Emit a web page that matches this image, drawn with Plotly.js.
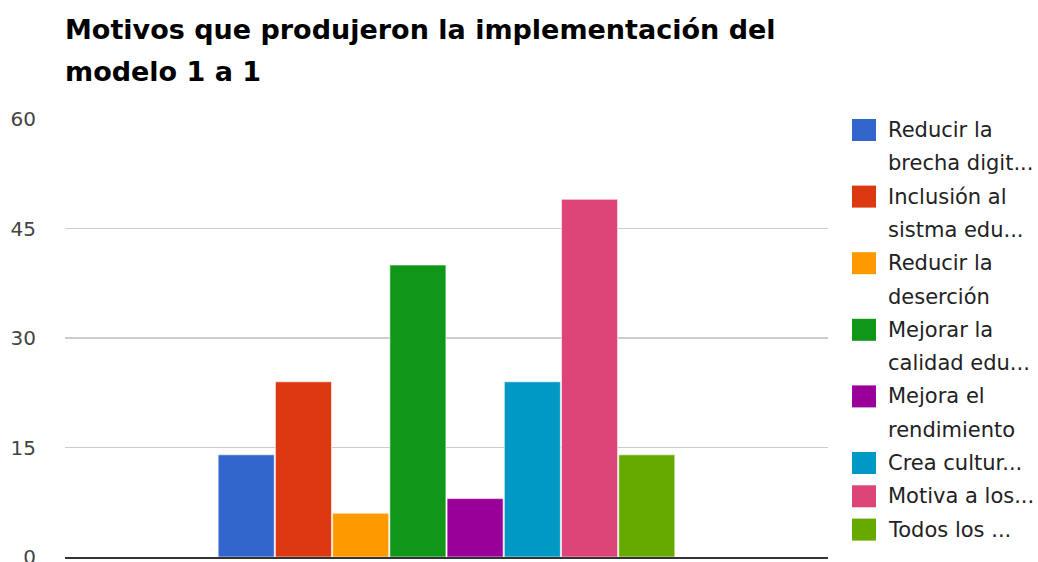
<!DOCTYPE html>
<html>
<head>
<meta charset="utf-8">
<script src="https://cdn.plot.ly/plotly-3.0.1.min.js"></script>
<style>html,body{margin:0;padding:0;background:#fff;}#chart{width:1038px;height:562px;}</style>
</head>
<body>
<div id="chart"></div>
<script>
const category = ["Motivos"];
const seriesNames = [
  ["Reducir la", "brecha digit..."],
  ["Inclusión al", "sistma edu..."],
  ["Reducir la", "deserción"],
  ["Mejorar la", "calidad edu..."],
  ["Mejora el", "rendimiento"],
  ["Crea cultur..."],
  ["Motiva a los..."],
  ["Todos los ..."]
];
const seriesValues = [14, 24, 6, 40, 8, 24, 49, 14];
const seriesColors = ["#3366cc", "#dc3912", "#ff9900", "#109618", "#990099", "#0099c6", "#dd4477", "#66aa00"];
const yTicks = [0, 15, 30, 45, 60];
const titleLines = ["Motivos que produjeron la implementación del", "modelo 1 a 1"];

const FONT = "DejaVu Sans, Verdana, sans-serif";
const W = 1038, H = 562;
const M = {l: 65, r: 210, t: 119, b: 5};
const pw = W - M.l - M.r, ph = H - M.t - M.b;
const px2x = px => (px - M.l) / pw;
const py2y = py => (H - M.b - py) / ph;

const traces = seriesNames.map((name, i) => ({
  type: "bar",
  name: name.join(" "),
  x: category,
  y: [seriesValues[i]],
  marker: {color: seriesColors[i], line: {color: "rgba(255,255,255,0.6)", width: 1}},
  hoverinfo: "skip"
}));

// custom legend (large squares, Google-Charts style spacing)
const annotations = [];
const shapes = [];
let line = 0;
const firstBase = 137, lineStep = 33.3;
seriesNames.forEach((lines, i) => {
  const base0 = firstBase + line * lineStep;
  shapes.push({
    type: "rect", xref: "paper", yref: "paper",
    x0: px2x(852), x1: px2x(876), y0: py2y(base0 - 18), y1: py2y(base0 + 4),
    fillcolor: seriesColors[i], line: {width: 0}
  });
  lines.forEach(t => {
    const base = firstBase + line * lineStep;
    annotations.push({
      xref: "paper", yref: "paper", x: px2x(886), y: py2y(base - 7),
      xanchor: "left", yanchor: "middle", showarrow: false,
      text: t, font: {family: FONT, size: 21, color: "#222"}
    });
    line++;
  });
});
// title
const titleBases = [38, 80];
titleLines.forEach((t, k) => {
  annotations.push({
    xref: "paper", yref: "paper", x: px2x(63), y: py2y(titleBases[k] - 9),
    xanchor: "left", yanchor: "middle", showarrow: false,
    text: "<b>" + t + "</b>", font: {family: FONT, size: 27, color: "#000"}
  });
});

const layout = {
  width: W, height: H,
  paper_bgcolor: "#ffffff", plot_bgcolor: "#ffffff",
  margin: M,
  font: {family: FONT, color: "#222"},
  barmode: "group",
  bargap: 0.4,
  bargroupgap: 0.02,
  showlegend: false,
  annotations: annotations,
  shapes: shapes,
  xaxis: {
    type: "category",
    showticklabels: false, showgrid: false, zeroline: false,
    showline: true, linecolor: "#333", linewidth: 2, ticks: "",
    fixedrange: true
  },
  yaxis: {
    range: [0, 60], tickvals: yTicks, ticktext: yTicks.map(String),
    showgrid: true, gridcolor: "#cccccc", gridwidth: 1.5,
    zeroline: false, showline: false, ticks: "",
    ticklabelstandoff: 28, ticklabeloverflow: "allow",
    tickfont: {size: 20, color: "#444", family: FONT},
    fixedrange: true
  }
};

Plotly.newPlot("chart", traces, layout, {displayModeBar: false, staticPlot: true});
</script>
</body>
</html>
